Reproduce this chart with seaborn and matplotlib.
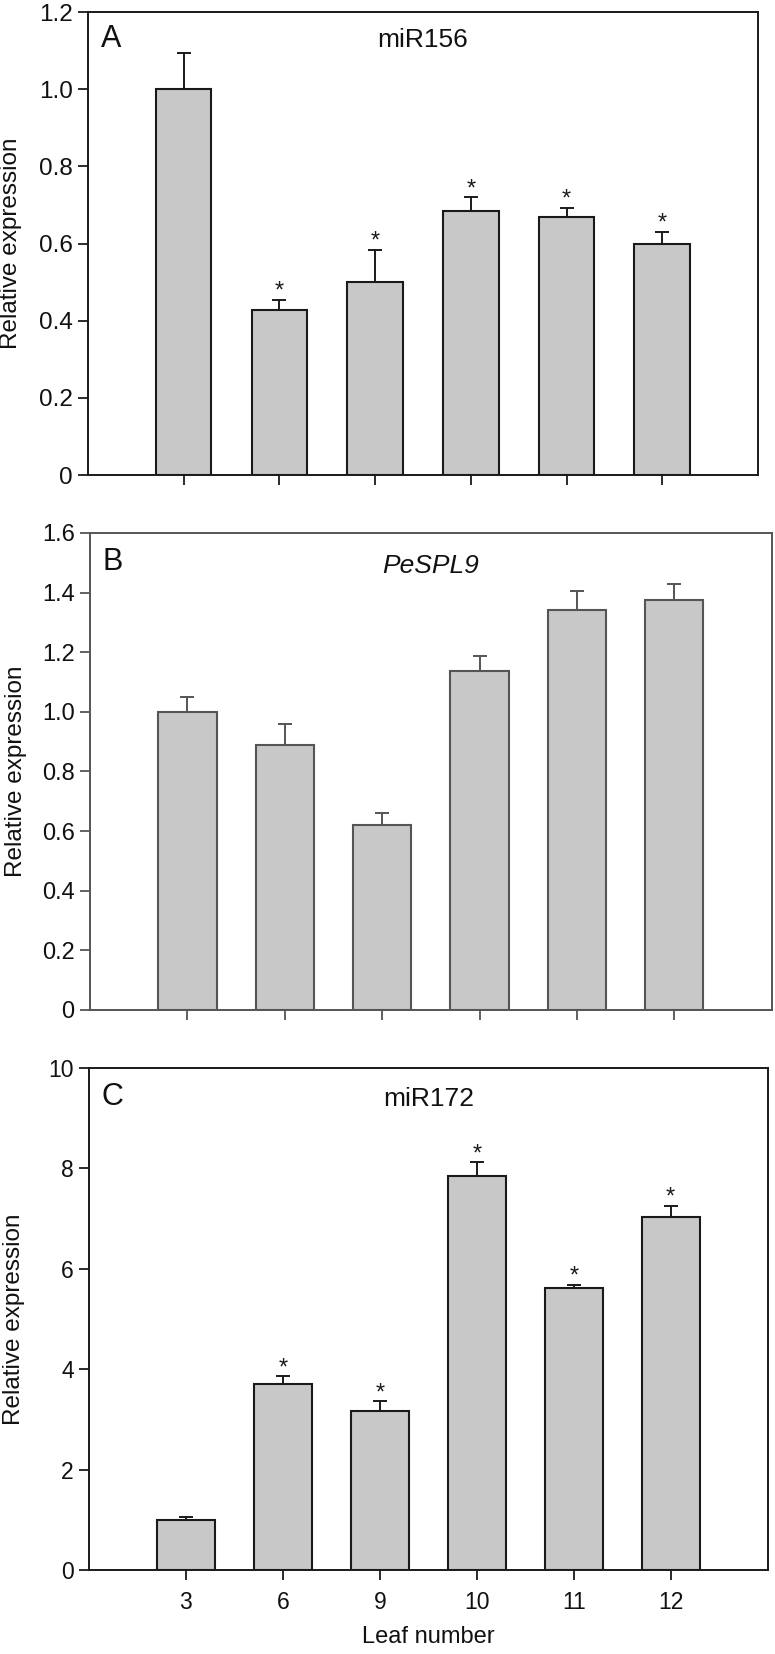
import numpy as np
import matplotlib
matplotlib.use("Agg")
import matplotlib.pyplot as plt
import seaborn as sns

# Leaf numbers (x categories)
leaf_labels = ['3', '6', '9', '10', '11', '12']

# Panel A: miR156
mir156_mean = [1.0, 0.427, 0.501, 0.685, 0.668, 0.600]
mir156_err = [0.094, 0.027, 0.083, 0.035, 0.024, 0.031]
mir156_sig = [False, True, True, True, True, True]

# Panel B: PeSPL9
spl9_mean = [1.0, 0.889, 0.621, 1.136, 1.340, 1.376]
spl9_err = [0.051, 0.069, 0.041, 0.050, 0.066, 0.052]
spl9_sig = [False] * 6

# Panel C: miR172
mir172_mean = [1.0, 3.70, 3.165, 7.85, 5.61, 7.03]
mir172_err = [0.055, 0.16, 0.195, 0.27, 0.07, 0.22]
mir172_sig = [False, True, True, True, True, True]

sns.set_style('ticks')
plt.rcParams['font.family'] = ['Liberation Sans', 'DejaVu Sans']

fig = plt.figure(figsize=(7.75, 16.54), dpi=100)

panels = [
    dict(letter='A', title='miR156', italic=False, mean=mir156_mean, err=mir156_err, sig=mir156_sig,
         ylim=1.2, yticks=[0, 0.2, 0.4, 0.6, 0.8, 1.0, 1.2],
         ylabels=['0', '0.2', '0.4', '0.6', '0.8', '1.0', '1.2'],
         rect=[0.1135, 0.7128, 0.8645, 0.2799], lc='#1a1a1a', tsize=17.5,
         lx=0.020, ly=0.925, ty=0.925, ylx=-0.099, width=0.58),
    dict(letter='B', title='PeSPL9', italic=True, mean=spl9_mean, err=spl9_err, sig=spl9_sig,
         ylim=1.6, yticks=[0, 0.2, 0.4, 0.6, 0.8, 1.0, 1.2, 1.4, 1.6],
         ylabels=['0', '0.2', '0.4', '0.6', '0.8', '1.0', '1.2', '1.4', '1.6'],
         rect=[0.1161, 0.3894, 0.8796, 0.2884], lc='#555555', tsize=17,
         lx=0.0186, ly=0.922, ty=0.917, ylx=-0.093, width=0.6),
    dict(letter='C', title='miR172', italic=False, mean=mir172_mean, err=mir172_err, sig=mir172_sig,
         ylim=10, yticks=[0, 2, 4, 6, 8, 10],
         ylabels=['0', '2', '4', '6', '8', '10'],
         rect=[0.1148, 0.0508, 0.8757, 0.3035], lc='#1a1a1a', tsize=16.5,
         lx=0.0187, ly=0.927, ty=0.925, ylx=-0.094, width=0.6),
]

for i, p in enumerate(panels):
    ax = fig.add_axes(p['rect'])
    sns.barplot(x=leaf_labels, y=p['mean'], order=leaf_labels, color='#c8c8c8',
                saturation=1, edgecolor=p['lc'], linewidth=1.5, width=p['width'],
                errorbar=None, ax=ax, zorder=2)
    pos = np.arange(len(leaf_labels))
    ax.errorbar(pos, p['mean'], yerr=[np.zeros(len(pos)), p['err']], fmt='none',
                ecolor=p['lc'], elinewidth=1.4, capsize=5, capthick=1.4, zorder=3)
    for x, m, e, s in zip(pos, p['mean'], p['err'], p['sig']):
        if s:
            ax.annotate('*', xy=(x, m + e), xytext=(0, 1.5), textcoords='offset points',
                        ha='center', va='baseline', fontsize=17, color='#1a1a1a')

    ax.set_xlim(-1, 6)
    ax.set_ylim(0, p['ylim'])
    ax.set_yticks(p['yticks'])
    ax.set_yticklabels(p['ylabels'])
    for sp in ax.spines.values():
        sp.set_visible(True)
        sp.set_linewidth(1.4)
        sp.set_color(p['lc'])
    ax.tick_params(axis='both', direction='out', length=7, width=1.3, color=p['lc'],
                   labelsize=p['tsize'], labelcolor='#111111')
    ax.tick_params(axis='y', pad=4)

    ax.set_ylabel('Relative expression', fontsize=17.5, color='#111111')
    ax.yaxis.set_label_coords(p['ylx'], 0.5)

    if i < 2:
        ax.set_xticklabels([])
        ax.set_xlabel('')
    else:
        ax.tick_params(axis='x', pad=8)
        ax.set_xlabel('Leaf number', fontsize=17, color='#111111')
        ax.xaxis.set_label_coords(0.5, -0.112)

    ax.text(p['lx'], p['ly'], p['letter'], transform=ax.transAxes, fontsize=22,
            ha='left', va='baseline', color='#111111')
    ax.text(0.5, p['ty'], p['title'], transform=ax.transAxes, fontsize=19,
            ha='center', va='baseline', color='#111111',
            style='italic' if p['italic'] else 'normal')

fig.savefig('out.png', dpi=100)
